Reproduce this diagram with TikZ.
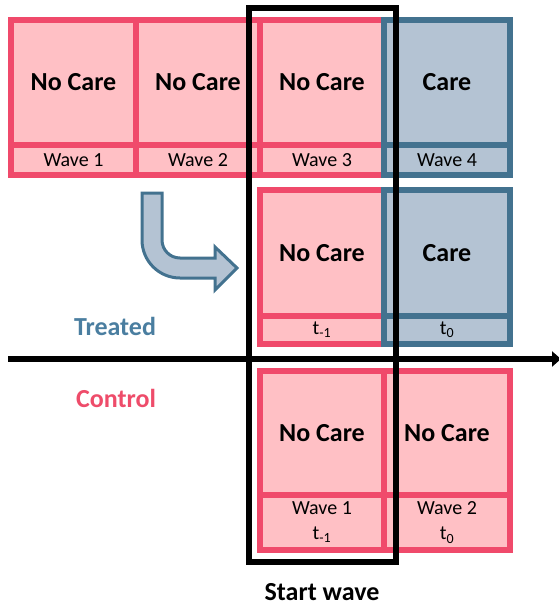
\documentclass[tikz,border=0pt]{standalone}
\usepackage{fontspec}
\setmainfont{Carlito}
\usetikzlibrary{arrows.meta}
\definecolor{pinkfill}{RGB}{255,192,197}
\definecolor{pinkline}{RGB}{240,74,107}
\definecolor{bluefill}{RGB}{180,195,211}
\definecolor{blueline}{RGB}{67,114,143}
\definecolor{treatblue}{RGB}{74,126,160}
\definecolor{ctrlpink}{RGB}{238,76,106}
\tikzset{
  pinkcell/.style={draw=pinkline, fill=pinkfill, line width=6pt, inner sep=0pt, rectangle},
  bluecell/.style={draw=blueline, fill=bluefill, line width=6pt, inner sep=0pt, rectangle},
  bigtxt/.style={font=\fontsize{26}{30}\selectfont\bfseries},
  smalltxt/.style={font=\fontsize{20}{25}\selectfont, align=center},
  grouplabel/.style={font=\fontsize{26}{30}\selectfont\bfseries},
  blackframe/.style={draw=black, line width=6pt, inner sep=0pt, rectangle},
  bendarrow/.style={draw=blueline, fill=bluefill, line width=3pt, line join=miter},
  axisline/.style={line width=6pt, -{Triangle[length=9pt,width=15pt]}}
}
\begin{document}
\begin{tikzpicture}[x=1pt,y=-1pt]
\useasboundingbox (0,0) rectangle (558,607);
% ---- top row (waves) ----
\node[pinkcell, bigtxt, minimum width=125, minimum height=125] (c11) at (73.5,82.5) {No Care};
\node[pinkcell, smalltxt, minimum width=125, minimum height=30] (l11) at (73.5,160) {Wave 1};
\node[pinkcell, bigtxt, minimum width=124, minimum height=125] (c12) at (198,82.5) {No Care};
\node[pinkcell, smalltxt, minimum width=124, minimum height=30] (l12) at (198,160) {Wave 2};
\node[pinkcell, bigtxt, minimum width=124, minimum height=125] (c13) at (322,82.5) {No Care};
\node[pinkcell, smalltxt, minimum width=124, minimum height=30] (l13) at (322,160) {Wave 3};
\node[bluecell, bigtxt, minimum width=126, minimum height=125] (c14) at (447,82.5) {Care};
\node[bluecell, smalltxt, minimum width=126, minimum height=30] (l14) at (447,160) {Wave 4};
% ---- treated row ----
\node[pinkcell, bigtxt, minimum width=124, minimum height=126] (t1) at (322,253) {No Care};
\node[pinkcell, smalltxt, minimum width=124, minimum height=28] (tl1) at (322,330) {t\textsubscript{-1}};
\node[bluecell, bigtxt, minimum width=126, minimum height=126] (t2) at (447,253) {Care};
\node[bluecell, smalltxt, minimum width=126, minimum height=28] (tl2) at (447,330) {t\textsubscript{0}};
% ---- control row ----
\node[pinkcell, bigtxt, minimum width=124, minimum height=124] (k1) at (322,433) {No Care};
\node[pinkcell, smalltxt, minimum width=124, minimum height=55] (kl1) at (322,522.5) {Wave 1\\t\textsubscript{-1}};
\node[pinkcell, bigtxt, minimum width=126, minimum height=124] (k2) at (447,433) {No Care};
\node[pinkcell, smalltxt, minimum width=126, minimum height=55] (kl2) at (447,522.5) {Wave 2\\t\textsubscript{0}};
% ---- group labels ----
\node[grouplabel, text=treatblue] (treated) at (115,326) {Treated};
\node[grouplabel, text=ctrlpink] (control) at (116,398) {Control};
% ---- axis ----
\coordinate (axL) at (8,359);
\coordinate (axR) at (561,359);
\draw[axisline] (axL) -- (axR);
% ---- bent arrow ----
\path[bendarrow] (142,193) -- (142,240) .. controls (142,261) and (159,278) .. (180,278)
  -- (215,278) -- (215,290) -- (237,268) -- (215,247) -- (215,258) -- (180,258)
  .. controls (170,258) and (162,250) .. (162,240) -- (162,193) -- cycle;
% ---- start wave frame ----
\node[blackframe, minimum width=147, minimum height=554] (sw) at (322.5,285) {};
\node[grouplabel] (swlabel) at (322,592) {Start wave};
\end{tikzpicture}
\end{document}
